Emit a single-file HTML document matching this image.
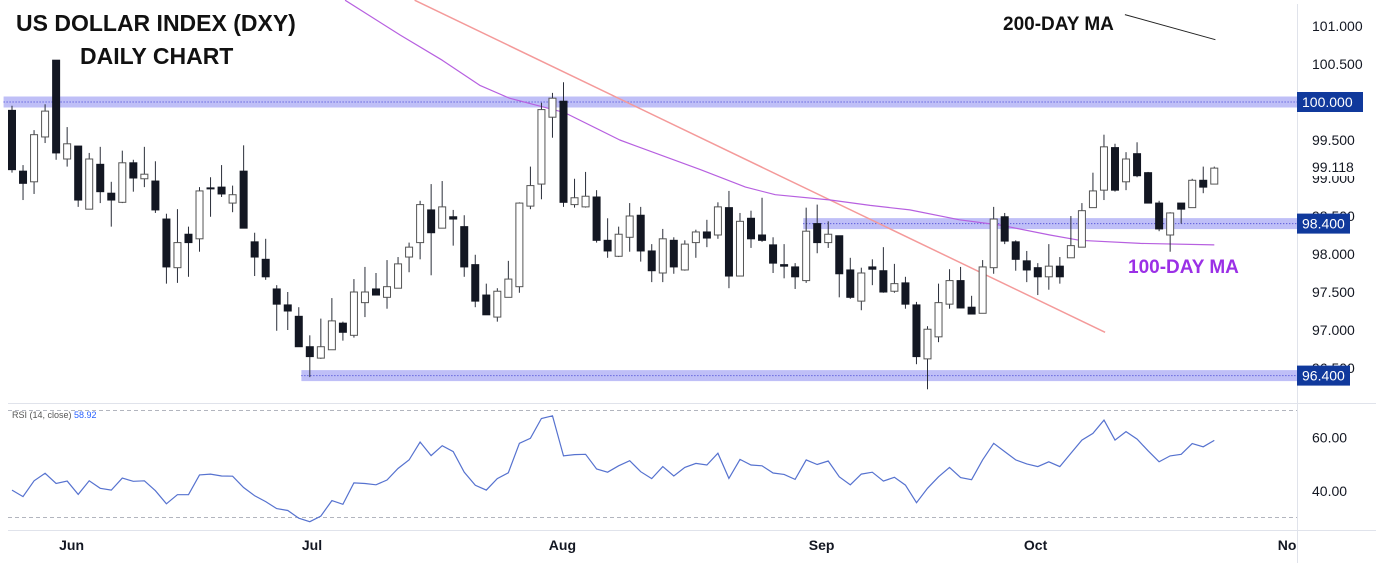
<!DOCTYPE html>
<html><head><meta charset="utf-8">
<style>
html,body{margin:0;padding:0;background:#fff;}
svg{display:block;font-family:"Liberation Sans",sans-serif;}
</style></head>
<body>
<svg id="chart" width="1376" height="567" viewBox="0 0 1376 567">
  <rect x="0" y="0" width="1376" height="567" fill="#fff"/>
  <g id="grid">
    <line x1="1297.5" y1="4" x2="1297.5" y2="563" stroke="#e0e3eb"/>
    <line x1="8" y1="403.5" x2="1376" y2="403.5" stroke="#e0e3eb"/>
    <line x1="8" y1="530.5" x2="1376" y2="530.5" stroke="#e0e3eb"/>
    <line x1="8" y1="410.5" x2="1297" y2="410.5" stroke="#b2b5be" stroke-dasharray="4,3"/>
    <line x1="8" y1="517.5" x2="1297" y2="517.5" stroke="#b2b5be" stroke-dasharray="4,3"/>
  </g>
  <g id="bands"></g>
  <g id="lines"></g>
  <g id="candles"></g>
  <g id="rsi"></g>
  <g id="axis"></g>
  <g id="xaxis"></g>
  <g font-weight="bold" font-size="23" fill="#111" stroke="#fff" stroke-width="3" paint-order="stroke">
    <text x="16" y="31">US DOLLAR INDEX (DXY)</text>
    <text x="80" y="64">DAILY CHART</text>
  </g>
  <text x="1003" y="30" font-size="19" font-weight="bold" fill="#111">200-DAY MA</text>
  <text x="1128" y="273" font-size="19" font-weight="bold" fill="#9b30e6">100-DAY MA</text>
  <text x="12" y="418" font-size="9" fill="#555">RSI (14, close) <tspan fill="#2962ff">58.92</tspan></text>
</svg>
<script>
const opens=[99.89,99.09,98.95,99.54,100.55,99.25,99.42,98.59,99.18,98.80,98.68,99.20,98.99,98.96,98.46,97.82,98.26,98.20,98.87,98.88,98.67,99.09,98.16,97.93,97.54,97.33,97.18,96.78,96.63,96.74,97.09,96.93,97.36,97.54,97.43,97.55,97.96,98.15,98.58,98.34,98.49,98.36,97.86,97.46,97.17,97.43,97.57,98.63,98.92,99.80,100.01,98.65,98.62,98.75,98.18,97.97,98.22,98.51,98.04,97.75,98.18,97.79,98.15,98.29,98.25,98.61,97.71,98.47,98.25,98.12,97.86,97.83,97.65,98.40,98.15,98.24,97.79,97.38,97.83,97.78,97.51,97.62,97.33,96.62,96.91,97.34,97.65,97.30,97.22,97.82,98.49,98.16,97.91,97.82,97.70,97.84,97.95,98.09,98.61,98.84,99.40,98.95,99.32,99.07,98.67,98.25,98.67,98.61,98.97,98.92];
const highs=[99.95,99.17,99.63,99.97,100.55,99.67,99.42,99.33,99.41,98.95,99.36,99.24,99.41,99.22,98.53,98.59,98.36,98.88,99.01,99.17,98.90,99.43,98.28,98.20,97.59,97.50,97.30,96.93,97.15,97.42,97.11,97.67,97.83,97.75,97.92,97.96,98.15,98.70,98.92,98.96,98.58,98.51,97.99,97.61,97.55,97.91,98.68,99.15,99.99,100.12,100.26,98.99,99.08,98.84,98.47,98.36,98.67,98.62,98.13,98.33,98.22,98.18,98.32,98.45,98.68,98.83,98.54,98.57,98.74,98.22,98.13,97.88,98.61,98.65,98.43,98.24,97.95,97.82,97.93,98.09,97.87,97.70,97.37,97.05,97.61,97.80,97.83,97.45,97.92,98.62,98.54,98.18,98.04,97.88,98.13,97.96,98.50,98.67,99.07,99.57,99.45,99.34,99.47,99.08,98.70,98.55,98.67,98.99,99.15,99.15];
const lows=[99.07,98.71,98.79,99.46,99.24,99.15,98.62,98.59,98.67,98.36,98.67,98.82,98.88,98.54,97.61,97.62,97.70,98.03,98.49,98.75,98.55,98.34,97.71,97.66,96.99,97.00,96.78,96.38,96.62,96.74,96.86,96.90,97.17,97.46,97.28,97.55,97.76,97.93,97.72,98.34,98.11,97.70,97.30,97.20,97.11,97.43,97.49,98.59,98.72,99.53,98.62,98.61,98.61,98.15,97.95,97.96,98.03,97.90,97.63,97.63,97.74,97.78,97.95,98.09,98.20,97.55,97.71,98.08,98.16,97.75,97.68,97.54,97.62,98.01,98.08,97.43,97.41,97.26,97.59,97.49,97.49,97.28,96.55,96.22,96.84,97.28,97.29,97.21,97.22,97.74,98.13,97.78,97.63,97.46,97.53,97.61,97.95,98.09,98.61,98.71,98.82,98.84,99.01,98.67,98.30,98.03,98.40,98.86,98.80,98.92];
const closes=[99.11,98.93,99.57,99.88,99.33,99.45,98.71,99.25,98.82,98.71,99.20,99.00,99.05,98.58,97.83,98.15,98.15,98.83,98.86,98.79,98.78,98.34,97.96,97.70,97.34,97.25,96.78,96.65,96.78,97.12,96.97,97.50,97.50,97.46,97.57,97.87,98.09,98.65,98.28,98.62,98.46,97.83,97.38,97.20,97.51,97.67,98.67,98.90,99.90,100.05,98.68,98.74,98.76,98.18,98.04,98.26,98.50,98.04,97.78,98.20,97.83,98.13,98.29,98.21,98.62,97.71,98.43,98.20,98.18,97.88,97.84,97.70,98.30,98.15,98.26,97.74,97.43,97.75,97.80,97.50,97.61,97.34,96.65,97.01,97.36,97.65,97.29,97.21,97.83,98.46,98.17,97.93,97.79,97.70,97.84,97.70,98.11,98.57,98.83,99.41,98.84,99.25,99.03,98.67,98.33,98.54,98.59,98.97,98.88,99.13];
const rsiValues=[40.3,37.9,43.8,46.6,42.8,43.7,38.7,43.8,41.0,40.3,44.8,43.6,43.8,40.1,35.2,38.6,38.6,46.0,46.3,45.6,45.5,41.3,38.2,36.0,33.4,32.7,29.8,28.5,30.6,36.4,35.0,43.0,42.8,42.3,44.1,48.4,51.6,58.3,53.2,56.9,54.7,47.0,42.1,40.3,44.6,46.8,57.8,59.7,67.1,68.1,53.1,53.6,53.7,48.2,47.0,49.4,51.3,47.2,44.6,49.1,45.6,48.8,50.3,49.7,54.1,44.7,51.8,49.7,49.4,46.7,46.2,44.3,51.6,49.9,51.2,45.3,42.3,46.3,47.0,43.7,45.1,42.2,35.6,41.0,45.3,48.8,45.0,44.2,51.6,57.8,54.7,51.6,50.1,49.1,50.9,49.1,54.1,59.0,61.5,66.5,59.0,62.2,59.4,55.0,50.9,53.1,53.7,57.7,56.5,58.9];
const ma100Index=[30.2,35.2,39,42.4,45.1,50.1,55.1,62.4,66.5,69.2,74.2,77.8,81.4,85.9,89.6,94.1,96.8,102.3,109];
const ma100Values=[101.34,100.88,100.55,100.22,100.05,99.86,99.50,99.11,98.88,98.78,98.71,98.64,98.58,98.45,98.38,98.25,98.18,98.14,98.12];
const ma200Index=[100.9,109.1];
const ma200Values=[101.15,100.82];
const trendIndex=[36.5,99.1];
const trendValues=[101.34,96.97];
const levels=[100.0,98.4,96.4];
const levelStart=[-0.4,72.1,26.6];
const priceTicks=[101,100.5,100,99.5,99,98.5,98,97.5,97,96.5];
const rsiTicks=[60,40];
const monthLabels=["Jun","Jul","Aug","Sep","Oct","No"];
const monthIndex=[5.4,27.2,49.9,73.4,92.8,115.6];
const lastPrice=99.118;

const NS="http://www.w3.org/2000/svg";
const xOf=i=>12+i*11.03;
const yOf=p=>102+(100-p)*76;
const rY=r=>410.7+(70-r)*2.675;
function mk(tag,attrs,parent){const e=document.createElementNS(NS,tag);for(const k in attrs)e.setAttribute(k,attrs[k]);parent.appendChild(e);return e;}
const G=id=>document.getElementById(id);

levels.forEach((lv,k)=>{
  const y=yOf(lv);const x0=xOf(levelStart[k])-4;
  const r=mk('rect',{x:x0,y:y-5.5,width:1297-x0,height:11,fill:'#b4b4f6',opacity:0.85},G('bands'));
  
  
  const l=mk('line',{x1:x0,y1:y,x2:1297,y2:y,stroke:'#3a3ad0','stroke-width':1,'stroke-dasharray':'1,2'},G('bands'));
  
  
});
function poly(idx,vals,color,w,name){
  const pts=idx.map((i,k)=>xOf(i).toFixed(1)+','+yOf(vals[k]).toFixed(1)).join(' ');
  const p=mk('polyline',{points:pts,fill:'none',stroke:color,'stroke-width':w,'stroke-linejoin':'round'},G('lines'));
  
  
}
poly(trendIndex,trendValues,'#f49a9a',1.5,'downtrend-line');
poly(ma100Index,ma100Values,'#b760e0',1.2,'ma100-line');
poly(ma200Index,ma200Values,'#222',1,'ma200-line');
closes.forEach((c,i)=>{
  const o=opens[i],x=xOf(i);
  const up=c>=o;
  const g=mk('g',{},G('candles'));
  
  
  mk('line',{x1:x,y1:yOf(highs[i]),x2:x,y2:yOf(lows[i]),stroke:'#2a2e39',"stroke-width":1},g);
  const top=yOf(Math.max(o,c)),bot=yOf(Math.min(o,c));
  mk('rect',{x:x-3.5,y:top,width:7,height:Math.max(1,bot-top),fill:up?'#fff':'#131722',stroke:up?'#555':'#131722','stroke-width':1},g);
});
const rp=rsiValues.map((r,i)=>xOf(i).toFixed(1)+','+rY(r).toFixed(1)).join(' ');
const rl=mk('polyline',{points:rp,fill:'none',stroke:'#5672cf','stroke-width':1.2},G('rsi'));


priceTicks.forEach(p=>{
  const t=mk('text',{x:1312,y:yOf(p)+5,'font-size':14,fill:'#131722'},G('axis'));
  t.textContent=p.toFixed(3);
  
  
});
rsiTicks.forEach(r=>{
  const t=mk('text',{x:1312,y:rY(r)+5,'font-size':14,fill:'#131722'},G('axis'));
  t.textContent=r.toFixed(2);
  
  
});
{
  const y=yOf(lastPrice)-2;
  const b=mk('rect',{x:1300,y:y-10,width:62,height:19,fill:'#fff'},G('axis'));
  
  
  const t=mk('text',{x:1312,y:y+5,'font-size':14,fill:'#131722'},G('axis'));
  t.textContent=lastPrice.toFixed(3);
  
  
}
levels.forEach(lv=>{
  const y=yOf(lv);
  const w=lv===100?66:53;
  const r=mk('rect',{x:1297,y:y-10,width:w,height:20,fill:'#10399c'},G('axis'));
  
  
  const t=mk('text',{x:1302,y:y+5,'font-size':14,fill:'#fff'},G('axis'));
  t.textContent=lv===100?lv.toFixed(3):lv.toFixed(3).slice(0,6);
  
  
});
monthLabels.forEach((m,k)=>{
  const t=mk('text',{x:xOf(monthIndex[k]),y:550,'font-size':14,'font-weight':'bold',fill:'#131722','text-anchor':'middle'},G('xaxis'));
  t.textContent=m;
  
  
});
</script>
</body></html>
